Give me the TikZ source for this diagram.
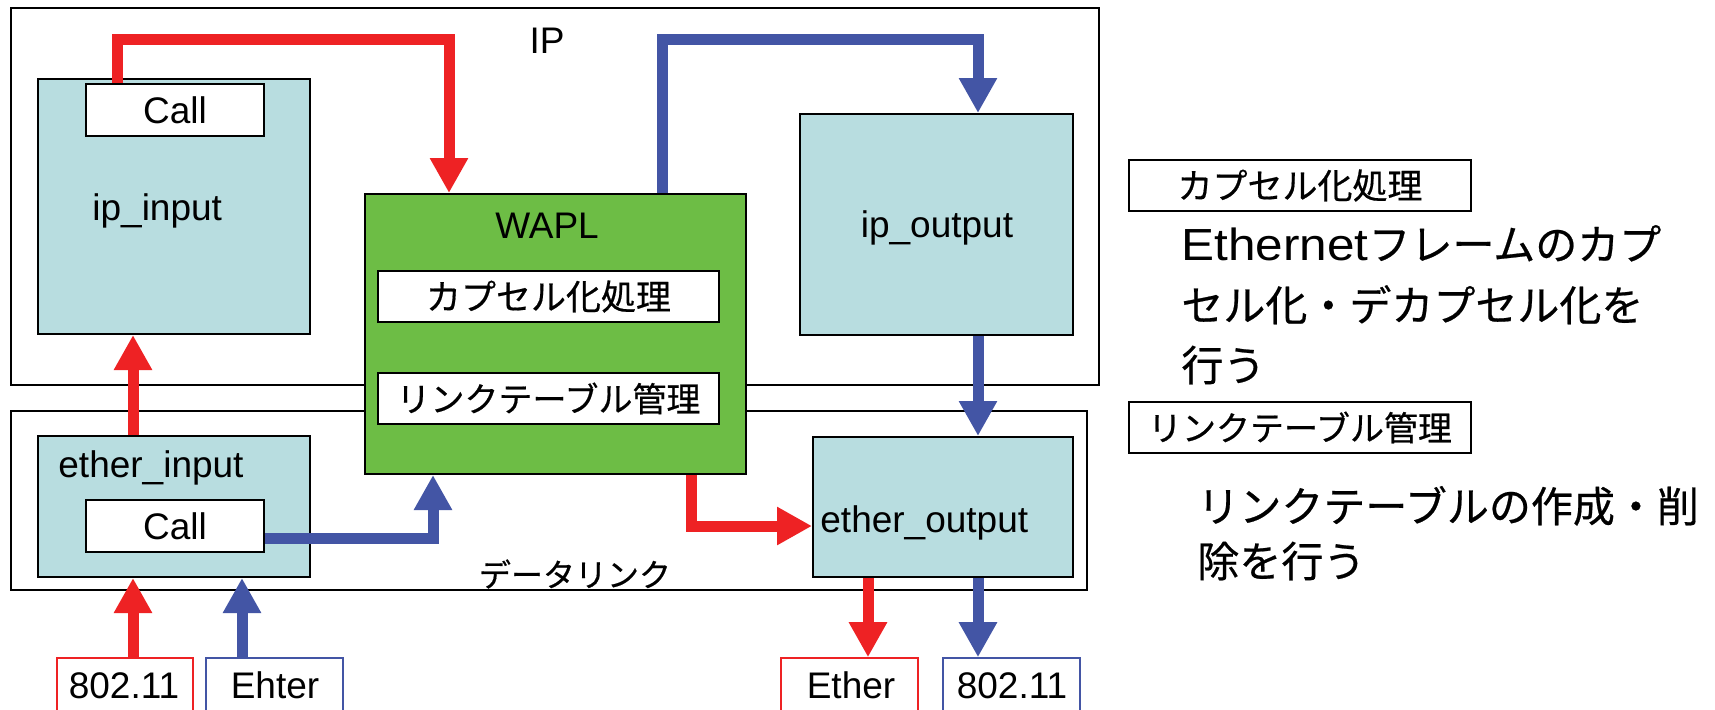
\documentclass[tikz,border=0pt]{standalone}
\usepackage{fontspec}
\setmainfont{Liberation Sans}
\newfontfamily\jp[FakeBold=0.5]{Noto Sans CJK JP}
\newfontfamily\widelat[FakeStretch=1.1]{Liberation Sans}
\usetikzlibrary{arrows.meta,fit}
\definecolor{lb}{RGB}{184,221,224}
\definecolor{gr}{RGB}{109,189,69}
\definecolor{rd}{RGB}{238,34,36}
\definecolor{bl}{RGB}{67,85,165}
\begin{document}
\begin{tikzpicture}[x=0.5pt,y=-0.5pt,
  box/.style={draw=black, line width=1pt, inner sep=0pt},
  lbox/.style={box, fill=lb},
  wbox/.style={box, fill=white},
  gbox/.style={box, fill=gr},
  iobox/.style={line width=0.8pt, inner sep=0pt, fill=white},
  lat/.style={font=\fontsize{18.5}{22}\selectfont, inner sep=0pt},
  jpl/.style={font=\jp\fontsize{17}{20}\selectfont, inner sep=0pt},
  bigjp/.style={font=\jp\fontsize{21}{25}\selectfont, inner sep=0pt, anchor=base west},
  rarr/.style={draw=rd, line width=5.5pt, -{Triangle[width=18pt,length=17.5pt]}},
  barr/.style={draw=bl, line width=5.5pt, -{Triangle[width=18pt,length=17.5pt]}},
]
\useasboundingbox (0,0) rectangle (1715,709);
\fill[white] (0,0) rectangle (1715,709);

% layer frames
\node[box, fit={(11,8) (1099,385)}] (ipframe) {};
\node[box, fit={(11,411) (1087,590)}] (dlframe) {};
\node[lat, anchor=base] (iplabel) at (547,53) {IP};
\node[jpl, font=\jp\fontsize{16}{19}\selectfont] (dllabel) at (575,574) {データリンク};

% ip_input
\node[lbox, fit={(38,79) (310,334)}] (ipin) {};
\node[wbox, fit={(86,84) (264,136)}] (call1) {};
\node[lat] (call1t) at (call1.center) {Call};
\node[lat, anchor=base west] (ipint) at (92,220) {ip\_input};

% ip_output
\node[lbox, fit={(800,114) (1073,335)}] (ipout) {};
\node[lat, anchor=base] (ipoutt) at (937,237) {ip\_output};

% WAPL
\node[gbox, fit={(365,194) (746,474)}] (wapl) {};
\node[lat, anchor=base] (waplt) at (547,238) {WAPL};
\node[wbox, fit={(378,271) (719,322)}] (encap) {};
\node[jpl, font=\jp\fontsize{17.5}{20}\selectfont] (encapt) at (encap.center) {カプセル化処理};
\node[wbox, fit={(378,373) (719,424)}] (ltab) {};
\node[jpl] (ltabt) at (ltab.center) {リンクテーブル管理};

% ether_input
\node[lbox, fit={(38,436) (310,577)}] (ethin) {};
\node[lat, anchor=base west] (ethint) at (58,477) {ether\_input};
\node[wbox, fit={(86,500) (264,552)}] (call2) {};
\node[lat] (call2t) at (call2.center) {Call};

% ether_output
\node[lbox, fit={(813,437) (1073,577)}] (ethout) {};
\node[lat, anchor=base west] (ethoutt) at (820,532) {ether\_output};

% interface boxes
\node[iobox, draw=rd, fit={(57,658) (193,725)}] (b1) {};
\node[lat, anchor=base] (b1t) at (124,698) {802.11};
\node[iobox, draw=bl, fit={(206,658) (343,725)}] (b2) {};
\node[lat, anchor=base] (b2t) at (275,698) {Ehter};
\node[iobox, draw=rd, fit={(781,658) (918,725)}] (b3) {};
\node[lat, anchor=base] (b3t) at (851,698) {Ether};
\node[iobox, draw=bl, fit={(943,658) (1080,725)}] (b4) {};
\node[lat, anchor=base] (b4t) at (1012,698) {802.11};

% connector helper coordinates
\coordinate (t1) at (117,39);
\coordinate (t2) at (449,39);
\coordinate (t3) at (662,39);
\coordinate (t4) at (978,39);
\coordinate (c1) at (133,0);
\coordinate (c3) at (242,0);
\coordinate (c4) at (868,0);
\coordinate (k) at (433,538);
\coordinate (m) at (691,526);

% connectors
\draw[rarr] (call1.north -| t1) -- (t1) -- (t2) -- (wapl.north -| t2);
\draw[barr] (wapl.north -| t3) -- (t3) -- (t4) -- (ipout.north -| t4);
\draw[rarr] (ethin.north -| c1) -- (ipin.south -| c1);
\draw[barr] (call2.east |- k) -- (k) -- (wapl.south -| k);
\draw[rarr] (wapl.south -| m) -- (m) -- (ethout.west |- m);
\draw[barr] (ipout.south -| t4) -- (ethout.north -| t4);
\draw[rarr] (b1.north -| c1) -- (ethin.south -| c1);
\draw[barr] (b2.north -| c3) -- (ethin.south -| c3);
\draw[rarr] (ethout.south -| c4) -- (b3.north -| c4);
\draw[barr] (ethout.south -| t4) -- (b4.north -| t4);

% legend on the right
\node[wbox, fit={(1129,160) (1471,211)}] (lg1) {};
\node[jpl, font=\jp\fontsize{17.5}{20}\selectfont] (lg1t) at (lg1.center) {カプセル化処理};
\node[inner sep=0pt, anchor=base west] (d1) at (1181,260)
  {\widelat\fontsize{22.5}{27}\selectfont Ethernet{\jp\fontsize{21}{25}\selectfont フレームのカプ}};
\node[bigjp] (d2) at (1181,321) {セル化・デカプセル化を};
\node[bigjp] (d3) at (1181,381) {行う};
\node[wbox, fit={(1129,402) (1471,453)}] (lg2) {};
\node[jpl] (lg2t) at (lg2.center) {リンクテーブル管理};
\node[bigjp] (d4) at (1197,522) {リンクテーブルの作成・削};
\node[bigjp] (d5) at (1197,577) {除を行う};
\end{tikzpicture}
\end{document}
